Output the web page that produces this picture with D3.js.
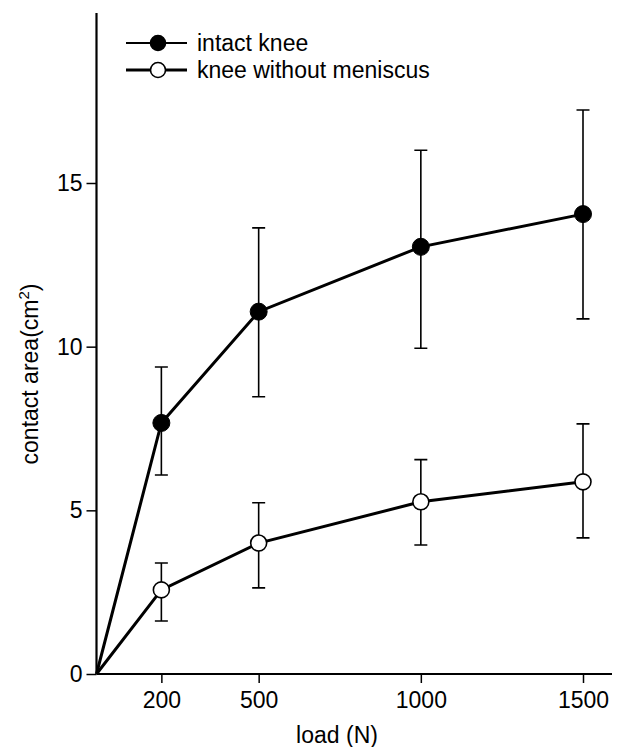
<!DOCTYPE html>
<html>

<head>
  <title></title>
  <script src="https://cdn.jsdelivr.net/npm/d3@7"></script>
</head>
<style>
  body { margin: 0; background: #fff; }
  text { font-family: "Liberation Sans", Arial, sans-serif; fill: #000; }
</style>

<body>

  <div id="chart"></div>
  <script>
    // loads (N)
    var loads = [0, 200, 500, 1000, 1500];

    // contact area (cm2)
    var intactMean = [0, 7.67, 11.07, 13.05, 14.05];
    var intactLow = [null, 6.08, 8.47, 9.95, 10.85];
    var intactHigh = [null, 9.38, 13.63, 16.0, 17.23];

    var noMenMean = [0, 2.57, 4.0, 5.26, 5.87];
    var noMenLow = [null, 1.62, 2.63, 3.94, 4.16];
    var noMenHigh = [null, 3.39, 5.23, 6.55, 7.64];

    var xTicks = [200, 500, 1000, 1500];
    var yTicks = [0, 5, 10, 15];

    var width = 625, height = 747;

    var svg = d3.select('#chart').append('svg')
      .attr('width', width)
      .attr('height', height);

    var x = d3.scaleLinear().domain([0, 1500]).range([96.5, 583]);
    var y = d3.scaleLinear().domain([0, 15]).range([674, 183]);

    // axes
    var xAxis = svg.append('g')
      .attr('transform', 'translate(0,' + y(0) + ')')
      .call(d3.axisBottom(x).tickValues(xTicks).tickSize(9).tickPadding(8).tickFormat(d3.format('d')));
    xAxis.select('.domain').attr('d', 'M' + x(0) + ',0H612').attr('stroke-width', 2.2);
    xAxis.selectAll('.tick line').attr('stroke-width', 1.5);
    xAxis.selectAll('.tick text').style('font-size', '23px').attr('dy', '0.75em');

    var yAxis = svg.append('g')
      .attr('transform', 'translate(' + x(0) + ',0)')
      .call(d3.axisLeft(y).tickValues(yTicks).tickSize(10).tickPadding(4));
    yAxis.select('.domain').attr('d', 'M0,' + y(0) + 'V13').attr('stroke-width', 2.2);
    yAxis.selectAll('.tick line').attr('stroke-width', 1.5);
    yAxis.selectAll('.tick text').style('font-size', '23px');

    // axis titles
    svg.append('text')
      .attr('x', 337).attr('y', 743)
      .attr('text-anchor', 'middle')
      .style('font-size', '23px')
      .text('load (N)');

    var yTitle = svg.append('text')
      .attr('transform', 'translate(38,374) rotate(-90)')
      .attr('text-anchor', 'middle')
      .style('font-size', '23px');
    yTitle.append('tspan').text('contact area(cm');
    yTitle.append('tspan').attr('dy', -9).style('font-size', '15px').text('2');
    yTitle.append('tspan').attr('dy', 9).text(')');

    function drawSeries(mean, low, high, filled) {
      var pts = loads.map(function (d, i) {
        return { x: d, m: mean[i], lo: low[i], hi: high[i] };
      });
      var withErr = pts.filter(function (d) { return d.lo !== null; });

      var g = svg.append('g');

      // error bars
      var cap = 6.5;
      withErr.forEach(function (d) {
        var cx = x(d.x);
        g.append('path')
          .attr('d', 'M' + cx + ',' + y(d.lo) + 'V' + y(d.hi) +
            'M' + (cx - cap) + ',' + y(d.hi) + 'H' + (cx + cap) +
            'M' + (cx - cap) + ',' + y(d.lo) + 'H' + (cx + cap))
          .attr('fill', 'none')
          .attr('stroke', '#000')
          .attr('stroke-width', 1.6);
      });

      var line = d3.line()
        .x(function (d) { return x(d.x); })
        .y(function (d) { return y(d.m); });

      g.append('path')
        .datum(pts)
        .attr('d', line)
        .attr('fill', 'none')
        .attr('stroke', '#000')
        .attr('stroke-width', 3);

      g.selectAll('circle')
        .data(withErr)
        .enter().append('circle')
        .attr('cx', function (d) { return x(d.x); })
        .attr('cy', function (d) { return y(d.m); })
        .attr('r', filled ? 8.5 : 8)
        .attr('fill', filled ? '#000' : '#fff')
        .attr('stroke', '#000')
        .attr('stroke-width', filled ? 1 : 1.6);
    }

    drawSeries(intactMean, intactLow, intactHigh, true);
    drawSeries(noMenMean, noMenLow, noMenHigh, false);

    // legend
    var legend = [
      { label: 'intact knee', filled: true, y: 43, w: 2.2 },
      { label: 'knee without meniscus', filled: false, y: 70, w: 3 }
    ];
    legend.forEach(function (l) {
      svg.append('line')
        .attr('x1', 126).attr('x2', 187)
        .attr('y1', l.y).attr('y2', l.y)
        .attr('stroke', '#000')
        .attr('stroke-width', l.w);
      svg.append('circle')
        .attr('cx', 158).attr('cy', l.y)
        .attr('r', 7.5)
        .attr('fill', l.filled ? '#000' : '#fff')
        .attr('stroke', '#000')
        .attr('stroke-width', 1.6);
      svg.append('text')
        .attr('x', 197).attr('y', l.y + 8)
        .style('font-size', '23px')
        .text(l.label);
    });
  </script>
</body>

</html>
